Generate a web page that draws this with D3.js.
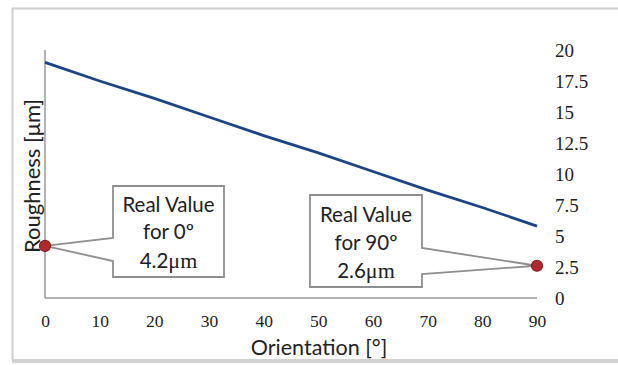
<!DOCTYPE html>
<html><head><meta charset="utf-8">
<script src="https://cdn.jsdelivr.net/npm/d3@7"></script>
<style>html,body{margin:0;padding:0;background:#fff;}svg{display:block;}</style>
</head><body>
<svg id="c" width="618" height="365"></svg>
<script>
const orientations = [0, 10, 20, 30, 40, 50, 60, 70, 80, 90];
const roughness = [19.0, 17.5, 16.1, 14.6, 13.1, 11.7, 10.2, 8.7, 7.3, 5.8];
const xTicks = [0, 10, 20, 30, 40, 50, 60, 70, 80, 90];
const yTicks = [0, 2.5, 5, 7.5, 10, 12.5, 15, 17.5, 20];
const realOrient = [0, 90];
const realValues = [4.2, 2.6];
const calloutLines = [["Real Value", "for 0º", "4.2", "μm"], ["Real Value", "for 90º", "2.6", "μm"]];

const svg = d3.select("#c");
const x = d3.scaleLinear().domain([0, 90]).range([45, 537]);
const y = d3.scaleLinear().domain([0, 20]).range([298, 50]);
const serif = "'Liberation Serif','Times New Roman',serif";
const sans = "Lato,'Open Sans',sans-serif";

// frame
svg.append("line").attr("x1", 12).attr("x2", 618).attr("y1", 8.5).attr("y2", 8.5).attr("stroke", "#cfcfcf").attr("stroke-width", 2);
svg.append("line").attr("x1", 12.5).attr("x2", 12.5).attr("y1", 8).attr("y2", 360).attr("stroke", "#cfcfcf").attr("stroke-width", 2);
svg.append("line").attr("x1", 12).attr("x2", 618).attr("y1", 361).attr("y2", 361).attr("stroke", "#d2d2d2").attr("stroke-width", 4);

// axes lines
svg.append("line").attr("x1", x(0)).attr("x2", x(0)).attr("y1", y(20)).attr("y2", y(0)).attr("stroke", "#9a9a9a").attr("stroke-width", 1.5);
svg.append("line").attr("x1", x(0)).attr("x2", x(90)).attr("y1", y(0)).attr("y2", y(0)).attr("stroke", "#9a9a9a").attr("stroke-width", 1.5);

// x tick labels
const xAxis = d3.axisBottom(x).tickValues(xTicks).tickSize(0).tickPadding(0).tickFormat(d3.format("d"));
const gx = svg.append("g").attr("transform", `translate(0,${y(0) + 23})`).call(xAxis);
gx.select(".domain").remove();
gx.selectAll("text").attr("font-family", serif).attr("font-size", 17.5).attr("fill", "#222").attr("dy", "0.32em");

// right y tick labels
const yAxis = d3.axisRight(y).tickValues(yTicks).tickSize(0).tickPadding(0).tickFormat(d => String(d));
const gy = svg.append("g").attr("transform", `translate(555,0)`).call(yAxis);
gy.select(".domain").remove();
gy.selectAll("text").attr("font-family", serif).attr("font-size", 19).attr("fill", "#222").attr("dy", "0.32em");

// axis titles
svg.append("text").attr("x", 319).attr("y", 355).attr("text-anchor", "middle")
  .attr("font-family", sans).attr("font-size", 21.5).attr("fill", "#222").text("Orientation [°]");
svg.append("text").attr("transform", "translate(40,176) rotate(-90)").attr("text-anchor", "middle")
  .attr("font-family", sans).attr("font-size", 22).attr("fill", "#222").text("Roughness [μm]");

// line
const line = d3.line().x((d, i) => x(orientations[i])).y(d => y(d));
svg.append("path").datum(roughness).attr("d", line).attr("fill", "none").attr("stroke", "#1c4587").attr("stroke-width", 2.8);

// callouts
const boxes = [
  {x0: 113, x1: 224, y0: 186, y1: 277, side: "left", a1: 238, a2: 261, cy: [205, 232, 261]},
  {x0: 310, x1: 422, y0: 195, y1: 287, side: "right", a1: 248, a2: 274, cy: [215, 243, 271]}
];
boxes.forEach((b, i) => {
  const tx = x(realOrient[i]), ty = y(realValues[i]);
  let p;
  if (b.side === "left") {
    p = `M${b.x0},${b.y0}L${b.x1},${b.y0}L${b.x1},${b.y1}L${b.x0},${b.y1}L${b.x0},${b.a2}L${tx},${ty}L${b.x0},${b.a1}Z`;
  } else {
    p = `M${b.x0},${b.y0}L${b.x1},${b.y0}L${b.x1},${b.a1}L${tx},${ty}L${b.x1},${b.a2}L${b.x1},${b.y1}L${b.x0},${b.y1}Z`;
  }
  svg.append("path").attr("d", p).attr("fill", "#fff").attr("stroke", "#8f8f8f").attr("stroke-width", 1.8).attr("stroke-linejoin", "miter");
  const cx = (b.x0 + b.x1) / 2;
  const L = calloutLines[i];
  svg.append("text").attr("x", cx).attr("y", b.cy[0]).attr("dy", "0.35em").attr("text-anchor", "middle").attr("font-family", sans).attr("font-size", 20.5).attr("fill", "#222").text(L[0]);
  svg.append("text").attr("x", cx).attr("y", b.cy[1]).attr("dy", "0.35em").attr("text-anchor", "middle").attr("font-family", sans).attr("font-size", 20.5).attr("fill", "#222").text(L[1]);
  const t3 = svg.append("text").attr("x", cx).attr("y", b.cy[2]).attr("dy", "0.35em").attr("text-anchor", "middle").attr("font-family", sans).attr("font-size", 20.5).attr("fill", "#222");
  t3.append("tspan").text(L[2]);
  t3.append("tspan").attr("font-family", serif).attr("font-size", 22).text(L[3]);
});

// real value markers
svg.selectAll("circle.rv").data(realValues).enter().append("circle").attr("class", "rv")
  .attr("cx", (d, i) => x(realOrient[i])).attr("cy", d => y(d)).attr("r", 5.5)
  .attr("fill", "#b3282a").attr("stroke", "#8a1c1c").attr("stroke-width", 1.2);
</script>
</body></html>
